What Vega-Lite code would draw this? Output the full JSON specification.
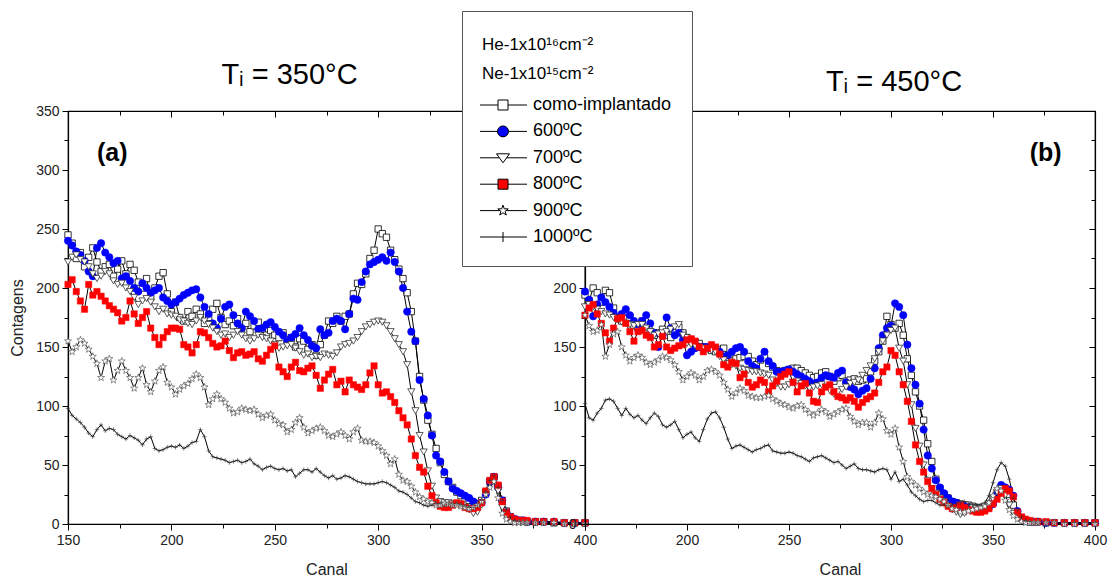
{
"$schema": "https://vega.github.io/schema/vega-lite/v6.json",
"background": "white",
"padding": {"left": 9, "top": 10, "right": 18, "bottom": 2},
"spacing": 0,
"bounds": "flush",
"datasets": {
"a": [
{"x":150,"c":245,"s6":240,"s7":222,"s8":203,"s9":155,"s10":98},
{"x":152,"c":238,"s6":236,"s7":226,"s8":207,"s9":146,"s10":92},
{"x":154,"c":225,"s6":231,"s7":228,"s8":197,"s9":150,"s10":89},
{"x":156,"c":230,"s6":228,"s7":224,"s8":189,"s9":156,"s10":86},
{"x":158,"c":218,"s6":223,"s7":222,"s8":182,"s9":153,"s10":82},
{"x":160,"c":226,"s6":214,"s7":218,"s8":203,"s9":148,"s10":77},
{"x":162,"c":234,"s6":210,"s7":212,"s8":194,"s9":142,"s10":74},
{"x":164,"c":222,"s6":234,"s7":208,"s8":197,"s9":136,"s10":80},
{"x":166,"c":214,"s6":238,"s7":210,"s8":193,"s9":124,"s10":84},
{"x":168,"c":218,"s6":230,"s7":214,"s8":189,"s9":138,"s10":79},
{"x":170,"c":220,"s6":226,"s7":212,"s8":185,"s9":140,"s10":81},
{"x":172,"c":210,"s6":221,"s7":206,"s8":182,"s9":122,"s10":80},
{"x":174,"c":216,"s6":223,"s7":203,"s8":179,"s9":130,"s10":76},
{"x":176,"c":223,"s6":208,"s7":204,"s8":172,"s9":138,"s10":74},
{"x":178,"c":212,"s6":210,"s7":200,"s8":175,"s9":130,"s10":72},
{"x":180,"c":220,"s6":206,"s7":197,"s8":189,"s9":124,"s10":75},
{"x":182,"c":215,"s6":200,"s7":192,"s8":178,"s9":115,"s10":73},
{"x":184,"c":205,"s6":197,"s7":186,"s8":170,"s9":124,"s10":71},
{"x":186,"c":200,"s6":204,"s7":189,"s8":175,"s9":132,"s10":67},
{"x":188,"c":208,"s6":200,"s7":191,"s8":180,"s9":118,"s10":72},
{"x":190,"c":192,"s6":196,"s7":188,"s8":166,"s9":112,"s10":74},
{"x":192,"c":200,"s6":198,"s7":184,"s8":158,"s9":121,"s10":64},
{"x":194,"c":210,"s6":200,"s7":180,"s8":152,"s9":130,"s10":62},
{"x":196,"c":213,"s6":192,"s7":182,"s8":158,"s9":133,"s10":63},
{"x":198,"c":195,"s6":189,"s7":178,"s8":163,"s9":120,"s10":65},
{"x":200,"c":180,"s6":186,"s7":177,"s8":166,"s9":116,"s10":66},
{"x":202,"c":188,"s6":188,"s7":176,"s8":166,"s9":110,"s10":65},
{"x":204,"c":175,"s6":191,"s7":173,"s8":165,"s9":114,"s10":67},
{"x":206,"c":172,"s6":194,"s7":172,"s8":152,"s9":117,"s10":64},
{"x":208,"c":180,"s6":196,"s7":170,"s8":150,"s9":119,"s10":66},
{"x":210,"c":176,"s6":198,"s7":169,"s8":145,"s9":123,"s10":69},
{"x":212,"c":182,"s6":199,"s7":172,"s8":152,"s9":127,"s10":70},
{"x":214,"c":178,"s6":192,"s7":175,"s8":163,"s9":124,"s10":80},
{"x":216,"c":170,"s6":184,"s7":172,"s8":162,"s9":116,"s10":74},
{"x":218,"c":175,"s6":178,"s7":169,"s8":158,"s9":101,"s10":62},
{"x":220,"c":182,"s6":170,"s7":166,"s8":153,"s9":106,"s10":57},
{"x":222,"c":187,"s6":166,"s7":163,"s8":150,"s9":110,"s10":56},
{"x":224,"c":175,"s6":174,"s7":160,"s8":151,"s9":106,"s10":55},
{"x":226,"c":169,"s6":184,"s7":161,"s8":155,"s9":103,"s10":54},
{"x":228,"c":172,"s6":186,"s7":158,"s8":147,"s9":98,"s10":52},
{"x":230,"c":168,"s6":177,"s7":160,"s8":141,"s9":94,"s10":53},
{"x":232,"c":174,"s6":170,"s7":163,"s8":145,"s9":95,"s10":54},
{"x":234,"c":166,"s6":166,"s7":160,"s8":146,"s9":98,"s10":52},
{"x":236,"c":170,"s6":180,"s7":157,"s8":143,"s9":97,"s10":53},
{"x":238,"c":163,"s6":176,"s7":155,"s8":144,"s9":96,"s10":55},
{"x":240,"c":168,"s6":172,"s7":157,"s8":146,"s9":97,"s10":51},
{"x":242,"c":171,"s6":165,"s7":160,"s8":140,"s9":93,"s10":49},
{"x":244,"c":165,"s6":166,"s7":158,"s8":138,"s9":90,"s10":46},
{"x":246,"c":160,"s6":169,"s7":157,"s8":143,"s9":92,"s10":48},
{"x":248,"c":164,"s6":171,"s7":155,"s8":148,"s9":93,"s10":49},
{"x":250,"c":160,"s6":167,"s7":152,"s8":151,"s9":88,"s10":47},
{"x":252,"c":158,"s6":163,"s7":149,"s8":133,"s9":85,"s10":46},
{"x":254,"c":162,"s6":160,"s7":150,"s8":129,"s9":84,"s10":47},
{"x":256,"c":156,"s6":155,"s7":151,"s8":125,"s9":78,"s10":45},
{"x":258,"c":158,"s6":158,"s7":152,"s8":133,"s9":80,"s10":46},
{"x":260,"c":150,"s6":161,"s7":149,"s8":137,"s9":86,"s10":40},
{"x":262,"c":157,"s6":166,"s7":146,"s8":130,"s9":90,"s10":43},
{"x":264,"c":155,"s6":160,"s7":143,"s8":129,"s9":82,"s10":46},
{"x":266,"c":148,"s6":156,"s7":144,"s8":132,"s9":77,"s10":46},
{"x":268,"c":152,"s6":151,"s7":141,"s8":134,"s9":79,"s10":44},
{"x":270,"c":143,"s6":149,"s7":142,"s8":126,"s9":81,"s10":47},
{"x":272,"c":152,"s6":165,"s7":141,"s8":115,"s9":82,"s10":44},
{"x":274,"c":160,"s6":160,"s7":144,"s8":122,"s9":79,"s10":41},
{"x":276,"c":172,"s6":162,"s7":143,"s8":127,"s9":75,"s10":39},
{"x":278,"c":170,"s6":172,"s7":142,"s8":131,"s9":74,"s10":41},
{"x":280,"c":176,"s6":174,"s7":145,"s8":118,"s9":76,"s10":38},
{"x":282,"c":172,"s6":172,"s7":150,"s8":121,"s9":78,"s10":39},
{"x":284,"c":176,"s6":165,"s7":152,"s8":112,"s9":75,"s10":41},
{"x":286,"c":178,"s6":178,"s7":153,"s8":122,"s9":72,"s10":40},
{"x":288,"c":195,"s6":191,"s7":155,"s8":118,"s9":78,"s10":38},
{"x":290,"c":204,"s6":190,"s7":158,"s8":116,"s9":81,"s10":36},
{"x":292,"c":203,"s6":205,"s7":163,"s8":114,"s9":71,"s10":35},
{"x":294,"c":212,"s6":214,"s7":167,"s8":118,"s9":70,"s10":34},
{"x":296,"c":225,"s6":220,"s7":169,"s8":128,"s9":70,"s10":34},
{"x":298,"c":232,"s6":222,"s7":171,"s8":134,"s9":69,"s10":34},
{"x":300,"c":250,"s6":224,"s7":172,"s8":118,"s9":66,"s10":35},
{"x":302,"c":246,"s6":226,"s7":171,"s8":111,"s9":62,"s10":36},
{"x":304,"c":243,"s6":223,"s7":168,"s8":112,"s9":58,"s10":35},
{"x":306,"c":232,"s6":230,"s7":163,"s8":108,"s9":51,"s10":33},
{"x":308,"c":224,"s6":222,"s7":157,"s8":103,"s9":55,"s10":31},
{"x":310,"c":216,"s6":214,"s7":152,"s8":96,"s9":42,"s10":28},
{"x":312,"c":208,"s6":200,"s7":146,"s8":90,"s9":37,"s10":27},
{"x":314,"c":196,"s6":180,"s7":135,"s8":84,"s9":36,"s10":25},
{"x":316,"c":180,"s6":163,"s7":112,"s8":72,"s9":32,"s10":22},
{"x":318,"c":155,"s6":155,"s7":96,"s8":58,"s9":27,"s10":19},
{"x":320,"c":125,"s6":122,"s7":75,"s8":48,"s9":23,"s10":18},
{"x":322,"c":105,"s6":106,"s7":61,"s8":44,"s9":21,"s10":16},
{"x":324,"c":88,"s6":92,"s7":45,"s8":32,"s9":19,"s10":15},
{"x":326,"c":76,"s6":75,"s7":32,"s8":24,"s9":18,"s10":16},
{"x":328,"c":64,"s6":58,"s7":22,"s8":18,"s9":16,"s10":17},
{"x":330,"c":52,"s6":53,"s7":19,"s8":15,"s9":16,"s10":17},
{"x":332,"c":42,"s6":44,"s7":18,"s8":14,"s9":17,"s10":16},
{"x":334,"c":36,"s6":36,"s7":18,"s8":14,"s9":17,"s10":17},
{"x":336,"c":31,"s6":30,"s7":17,"s8":16,"s9":16,"s10":16},
{"x":338,"c":27,"s6":28,"s7":17,"s8":18,"s9":16,"s10":17},
{"x":340,"c":24,"s6":26,"s7":16,"s8":17,"s9":15,"s10":16},
{"x":342,"c":22,"s6":24,"s7":14,"s8":14,"s9":14,"s10":15},
{"x":344,"c":20,"s6":22,"s7":12,"s8":13,"s9":13,"s10":14},
{"x":346,"c":18,"s6":19,"s7":9,"s8":13,"s9":14,"s10":14},
{"x":348,"c":17,"s6":17,"s7":10,"s8":14,"s9":16,"s10":16},
{"x":350,"c":20,"s6":18,"s7":16,"s8":18,"s9":19,"s10":20},
{"x":352,"c":27,"s6":25,"s7":25,"s8":28,"s9":25,"s10":27},
{"x":354,"c":36,"s6":36,"s7":35,"s8":37,"s9":31,"s10":37},
{"x":356,"c":40,"s6":40,"s7":38,"s8":40,"s9":36,"s10":41},
{"x":358,"c":32,"s6":31,"s7":28,"s8":33,"s9":22,"s10":31},
{"x":360,"c":20,"s6":20,"s7":14,"s8":19,"s9":9,"s10":20},
{"x":362,"c":11,"s6":10,"s7":6,"s8":10,"s9":4,"s10":12},
{"x":364,"c":6,"s6":6,"s7":3,"s8":6,"s9":2,"s10":6},
{"x":366,"c":4,"s6":4,"s7":2,"s8":4,"s9":1,"s10":3},
{"x":368,"c":3,"s6":3,"s7":2,"s8":3,"s9":1,"s10":2},
{"x":370,"c":3,"s6":3,"s7":2,"s8":3,"s9":1,"s10":1},
{"x":372,"c":2,"s6":2,"s7":1,"s8":3,"s9":1,"s10":1},
{"x":376,"c":2,"s6":2,"s7":1,"s8":2,"s9":1,"s10":1},
{"x":380,"c":2,"s6":2,"s7":1,"s8":2,"s9":1,"s10":1},
{"x":385,"c":1,"s6":2,"s7":1,"s8":2,"s9":1,"s10":0},
{"x":390,"c":1,"s6":1,"s7":1,"s8":1,"s9":0,"s10":0},
{"x":395,"c":1,"s6":1,"s7":1,"s8":1,"s9":0,"s10":0},
{"x":400,"c":1,"s6":1,"s7":1,"s8":1,"s9":0,"s10":0}
],
"b": [
{"x":150,"c":194,"s6":197,"s7":184,"s8":177,"s9":177,"s10":102},
{"x":152,"c":189,"s6":190,"s7":186,"s8":183,"s9":168,"s10":90},
{"x":154,"c":200,"s6":176,"s7":184,"s8":186,"s9":163,"s10":88},
{"x":156,"c":196,"s6":186,"s7":182,"s8":178,"s9":164,"s10":94},
{"x":158,"c":188,"s6":192,"s7":180,"s8":170,"s9":169,"s10":98},
{"x":160,"c":198,"s6":188,"s7":178,"s8":162,"s9":142,"s10":105},
{"x":162,"c":196,"s6":184,"s7":177,"s8":155,"s9":152,"s10":106},
{"x":164,"c":183,"s6":179,"s7":175,"s8":166,"s9":161,"s10":104},
{"x":166,"c":175,"s6":175,"s7":173,"s8":174,"s9":163,"s10":98},
{"x":168,"c":172,"s6":178,"s7":171,"s8":175,"s9":150,"s10":92},
{"x":170,"c":174,"s6":182,"s7":170,"s8":170,"s9":143,"s10":98},
{"x":172,"c":175,"s6":177,"s7":169,"s8":163,"s9":138,"s10":93},
{"x":174,"c":168,"s6":172,"s7":168,"s8":155,"s9":141,"s10":90},
{"x":176,"c":166,"s6":169,"s7":169,"s8":163,"s9":143,"s10":92},
{"x":178,"c":172,"s6":172,"s7":169,"s8":164,"s9":141,"s10":88},
{"x":180,"c":165,"s6":177,"s7":166,"s8":160,"s9":137,"s10":85},
{"x":182,"c":163,"s6":170,"s7":163,"s8":158,"s9":135,"s10":90},
{"x":184,"c":160,"s6":162,"s7":160,"s8":150,"s9":137,"s10":94},
{"x":186,"c":162,"s6":150,"s7":161,"s8":152,"s9":139,"s10":91},
{"x":188,"c":165,"s6":160,"s7":162,"s8":159,"s9":142,"s10":84},
{"x":190,"c":160,"s6":175,"s7":163,"s8":150,"s9":141,"s10":82},
{"x":192,"c":158,"s6":166,"s7":165,"s8":147,"s9":139,"s10":84},
{"x":194,"c":163,"s6":160,"s7":167,"s8":149,"s9":135,"s10":87},
{"x":196,"c":167,"s6":162,"s7":169,"s8":151,"s9":129,"s10":80},
{"x":198,"c":162,"s6":156,"s7":160,"s8":152,"s9":122,"s10":73},
{"x":200,"c":158,"s6":143,"s7":153,"s8":156,"s9":125,"s10":76},
{"x":202,"c":156,"s6":146,"s7":152,"s8":157,"s9":128,"s10":78},
{"x":204,"c":154,"s6":149,"s7":151,"s8":155,"s9":126,"s10":73},
{"x":206,"c":153,"s6":150,"s7":150,"s8":150,"s9":122,"s10":70},
{"x":208,"c":150,"s6":150,"s7":149,"s8":146,"s9":125,"s10":80},
{"x":210,"c":149,"s6":150,"s7":148,"s8":149,"s9":130,"s10":89},
{"x":212,"c":147,"s6":149,"s7":147,"s8":152,"s9":131,"s10":94},
{"x":214,"c":146,"s6":149,"s7":146,"s8":150,"s9":129,"s10":95},
{"x":216,"c":148,"s6":146,"s7":142,"s8":144,"s9":126,"s10":90},
{"x":218,"c":149,"s6":142,"s7":139,"s8":135,"s9":120,"s10":82},
{"x":220,"c":141,"s6":143,"s7":136,"s8":133,"s9":114,"s10":72},
{"x":222,"c":138,"s6":146,"s7":135,"s8":137,"s9":108,"s10":64},
{"x":224,"c":140,"s6":149,"s7":134,"s8":136,"s9":111,"s10":66},
{"x":226,"c":141,"s6":150,"s7":132,"s8":124,"s9":115,"s10":67},
{"x":228,"c":142,"s6":146,"s7":131,"s8":127,"s9":113,"s10":65},
{"x":230,"c":142,"s6":138,"s7":130,"s8":120,"s9":109,"s10":63},
{"x":232,"c":138,"s6":134,"s7":129,"s8":116,"s9":108,"s10":61},
{"x":234,"c":135,"s6":132,"s7":129,"s8":118,"s9":107,"s10":63},
{"x":236,"c":139,"s6":140,"s7":128,"s8":122,"s9":107,"s10":64},
{"x":238,"c":141,"s6":146,"s7":127,"s8":120,"s9":108,"s10":66},
{"x":240,"c":136,"s6":138,"s7":126,"s8":112,"s9":109,"s10":67},
{"x":242,"c":133,"s6":134,"s7":122,"s8":117,"s9":106,"s10":62},
{"x":244,"c":130,"s6":129,"s7":119,"s8":121,"s9":104,"s10":61},
{"x":246,"c":129,"s6":129,"s7":116,"s8":125,"s9":102,"s10":60},
{"x":248,"c":130,"s6":130,"s7":116,"s8":127,"s9":101,"s10":60},
{"x":250,"c":131,"s6":131,"s7":118,"s8":129,"s9":99,"s10":61},
{"x":252,"c":132,"s6":129,"s7":120,"s8":120,"s9":98,"s10":60},
{"x":254,"c":132,"s6":127,"s7":121,"s8":112,"s9":100,"s10":58},
{"x":256,"c":130,"s6":125,"s7":119,"s8":117,"s9":101,"s10":57},
{"x":258,"c":128,"s6":123,"s7":117,"s8":119,"s9":97,"s10":55},
{"x":260,"c":126,"s6":121,"s7":115,"s8":111,"s9":94,"s10":53},
{"x":262,"c":124,"s6":119,"s7":116,"s8":104,"s9":92,"s10":56},
{"x":264,"c":125,"s6":120,"s7":117,"s8":103,"s9":94,"s10":57},
{"x":266,"c":128,"s6":124,"s7":118,"s8":112,"s9":97,"s10":58},
{"x":268,"c":129,"s6":126,"s7":116,"s8":116,"s9":95,"s10":56},
{"x":270,"c":125,"s6":125,"s7":113,"s8":118,"s9":91,"s10":54},
{"x":272,"c":121,"s6":124,"s7":110,"s8":112,"s9":93,"s10":52},
{"x":274,"c":124,"s6":128,"s7":112,"s8":108,"s9":95,"s10":53},
{"x":276,"c":126,"s6":130,"s7":114,"s8":107,"s9":97,"s10":50},
{"x":278,"c":121,"s6":120,"s7":116,"s8":105,"s9":98,"s10":47},
{"x":280,"c":122,"s6":116,"s7":119,"s8":107,"s9":91,"s10":49},
{"x":282,"c":123,"s6":114,"s7":120,"s8":104,"s9":87,"s10":51},
{"x":284,"c":121,"s6":110,"s7":122,"s8":99,"s9":84,"s10":47},
{"x":286,"c":122,"s6":113,"s7":126,"s8":103,"s9":86,"s10":46},
{"x":288,"c":123,"s6":115,"s7":130,"s8":106,"s9":86,"s10":46},
{"x":290,"c":129,"s6":123,"s7":134,"s8":108,"s9":82,"s10":45},
{"x":292,"c":138,"s6":132,"s7":140,"s8":111,"s9":86,"s10":44},
{"x":294,"c":146,"s6":149,"s7":146,"s8":120,"s9":94,"s10":46},
{"x":296,"c":155,"s6":160,"s7":155,"s8":129,"s9":89,"s10":47},
{"x":298,"c":176,"s6":166,"s7":160,"s8":133,"s9":79,"s10":46},
{"x":300,"c":169,"s6":168,"s7":164,"s8":147,"s9":76,"s10":38},
{"x":302,"c":166,"s6":187,"s7":166,"s8":143,"s9":81,"s10":44},
{"x":304,"c":170,"s6":184,"s7":149,"s8":129,"s9":65,"s10":36},
{"x":306,"c":160,"s6":177,"s7":138,"s8":118,"s9":53,"s10":38},
{"x":308,"c":140,"s6":152,"s7":118,"s8":104,"s9":40,"s10":33},
{"x":310,"c":126,"s6":132,"s7":101,"s8":87,"s9":36,"s10":27},
{"x":312,"c":112,"s6":118,"s7":81,"s8":67,"s9":33,"s10":24},
{"x":314,"c":100,"s6":102,"s7":66,"s8":53,"s9":30,"s10":21},
{"x":316,"c":88,"s6":80,"s7":50,"s8":44,"s9":27,"s10":19},
{"x":318,"c":68,"s6":58,"s7":37,"s8":36,"s9":25,"s10":20},
{"x":320,"c":53,"s6":47,"s7":30,"s8":30,"s9":24,"s10":20},
{"x":322,"c":38,"s6":37,"s7":26,"s8":25,"s9":23,"s10":18},
{"x":324,"c":30,"s6":31,"s7":22,"s8":21,"s9":21,"s10":16},
{"x":326,"c":25,"s6":26,"s7":19,"s8":18,"s9":19,"s10":16},
{"x":328,"c":22,"s6":22,"s7":15,"s8":15,"s9":16,"s10":16},
{"x":330,"c":19,"s6":19,"s7":12,"s8":13,"s9":13,"s10":16},
{"x":332,"c":18,"s6":18,"s7":10,"s8":14,"s9":12,"s10":17},
{"x":334,"c":17,"s6":16,"s7":8,"s8":16,"s9":10,"s10":18},
{"x":336,"c":16,"s6":15,"s7":9,"s8":14,"s9":10,"s10":19},
{"x":338,"c":16,"s6":14,"s7":12,"s8":12,"s9":11,"s10":17},
{"x":340,"c":15,"s6":13,"s7":14,"s8":11,"s9":12,"s10":16},
{"x":342,"c":14,"s6":13,"s7":13,"s8":10,"s9":13,"s10":16},
{"x":344,"c":14,"s6":12,"s7":13,"s8":10,"s9":14,"s10":16},
{"x":346,"c":15,"s6":13,"s7":12,"s8":11,"s9":15,"s10":18},
{"x":348,"c":17,"s6":14,"s7":15,"s8":13,"s9":18,"s10":24},
{"x":350,"c":21,"s6":17,"s7":21,"s8":17,"s9":24,"s10":35},
{"x":352,"c":26,"s6":25,"s7":27,"s8":21,"s9":30,"s10":46},
{"x":354,"c":30,"s6":33,"s7":30,"s8":26,"s9":28,"s10":52},
{"x":356,"c":30,"s6":31,"s7":24,"s8":30,"s9":20,"s10":49},
{"x":358,"c":25,"s6":29,"s7":16,"s8":28,"s9":12,"s10":38},
{"x":360,"c":16,"s6":24,"s7":9,"s8":23,"s9":7,"s10":22},
{"x":362,"c":9,"s6":11,"s7":5,"s8":10,"s9":4,"s10":12},
{"x":364,"c":5,"s6":5,"s7":3,"s8":6,"s9":2,"s10":6},
{"x":366,"c":3,"s6":3,"s7":2,"s8":4,"s9":1,"s10":3},
{"x":368,"c":2,"s6":2,"s7":1,"s8":3,"s9":1,"s10":2},
{"x":370,"c":2,"s6":2,"s7":1,"s8":2,"s9":1,"s10":1},
{"x":372,"c":2,"s6":2,"s7":1,"s8":2,"s9":1,"s10":1},
{"x":376,"c":1,"s6":1,"s7":1,"s8":2,"s9":1,"s10":1},
{"x":380,"c":1,"s6":1,"s7":1,"s8":1,"s9":1,"s10":1},
{"x":385,"c":1,"s6":1,"s7":1,"s8":1,"s9":0,"s10":1},
{"x":390,"c":1,"s6":1,"s7":1,"s8":1,"s9":0,"s10":1},
{"x":395,"c":1,"s6":1,"s7":1,"s8":1,"s9":0,"s10":1},
{"x":400,"c":1,"s6":1,"s7":1,"s8":1,"s9":0,"s10":1}
]
},
"hconcat": [
{
"width": 517, "height": 413,
"data": {"name": "a"},
"title": {"text": "Tᵢ = 350°C", "dx": -37},
"layer": [
{"transform": [{"fold": ["c","s6","s7","s8","s9","s10"], "as": ["serie","v"]}],
 "mark": {"type": "line", "color": "black", "strokeWidth": 1},
 "encoding": {
  "x": {"field": "x", "type": "quantitative", "scale": {"domain": [150,400], "nice": false, "zero": false},
        "axis": {"title": "Canal", "values": [150,175,200,225,250,275,300,325,350,375,400], "labelExpr": "datum.value % 50 === 0 ? datum.label : ''", "tickSize": {"condition": {"test": "datum.value % 50 === 0", "value": 6}, "value": 4}}},
  "y": {"field": "v", "type": "quantitative", "scale": {"domain": [0,350], "nice": false},
        "axis": {"title": "Contagens", "values": [0,25,50,75,100,125,150,175,200,225,250,275,300,325,350], "labelExpr": "datum.value % 50 === 0 ? datum.label : ''", "tickSize": {"condition": {"test": "datum.value % 50 === 0", "value": 6}, "value": 4}}},
  "detail": {"field": "serie", "type": "nominal"}}},
{"mark": {"type": "point", "shape": "square", "filled": true, "fill": "white", "stroke": "black", "strokeWidth": 0.8, "size": 40, "opacity": 1},
 "encoding": {"x": {"field": "x", "type": "quantitative", "axis": null}, "y": {"field": "c", "type": "quantitative", "axis": null}}},
{"mark": {"type": "point", "shape": "circle", "filled": true, "fill": "#0000ff", "stroke": "#0000ff", "strokeWidth": 0.5, "size": 55, "opacity": 1},
 "encoding": {"x": {"field": "x", "type": "quantitative", "axis": null}, "y": {"field": "s6", "type": "quantitative", "axis": null}}},
{"mark": {"type": "point", "shape": "triangle-down", "filled": true, "fill": "white", "stroke": "#333333", "strokeWidth": 0.8, "size": 50, "opacity": 1},
 "encoding": {"x": {"field": "x", "type": "quantitative", "axis": null}, "y": {"field": "s7", "type": "quantitative", "axis": null}}},
{"mark": {"type": "point", "shape": "square", "filled": true, "fill": "#ff0000", "stroke": "#ff0000", "strokeWidth": 0.5, "size": 40, "opacity": 1},
 "encoding": {"x": {"field": "x", "type": "quantitative", "axis": null}, "y": {"field": "s8", "type": "quantitative", "axis": null}}},
{"mark": {"type": "point", "shape": "M0,-1L0.235,-0.324L0.951,-0.309L0.380,0.124L0.588,0.809L0,0.4L-0.588,0.809L-0.380,0.124L-0.951,-0.309L-0.235,-0.324Z", "filled": true, "fill": "white", "stroke": "#444444", "strokeWidth": 0.6, "size": 55, "opacity": 1},
 "encoding": {"x": {"field": "x", "type": "quantitative", "axis": null}, "y": {"field": "s9", "type": "quantitative", "axis": null}}},
{"mark": {"type": "point", "shape": "M-1,0H1M0,-1V1", "filled": false, "stroke": "#333333", "strokeWidth": 0.6, "size": 20, "opacity": 1},
 "encoding": {"x": {"field": "x", "type": "quantitative", "axis": null}, "y": {"field": "s10", "type": "quantitative", "axis": null}}},
{"mark": {"type": "point", "opacity": 0},
 "encoding": {"x": {"field": "x", "type": "quantitative", "axis": {"orient": "top", "title": null, "labels": false, "values": [150,175,200,225,250,275,300,325,350,375,400], "tickSize": {"condition": {"test": "datum.value % 50 === 0", "value": -6}, "value": -4}}},
              "y": {"field": "c", "type": "quantitative", "axis": null}}},
{"data": {"values": [{}]},
 "mark": {"type": "text", "text": "(a)", "fontSize": 25, "fontWeight": "bold", "align": "left", "baseline": "middle", "font": "Liberation Sans", "color": "black"},
 "encoding": {"x": {"datum": 164, "type": "quantitative", "axis": null}, "y": {"datum": 314, "type": "quantitative", "axis": null}}},
{"data": {"values": []},
 "mark": {"type": "point", "filled": true, "opacity": 1},
 "encoding": {
  "shape": {"field": "serie", "type": "nominal",
    "scale": {"domain": ["como-implantado","600ºC","700ºC","800ºC","900ºC","1000ºC"],
              "range": ["M-2.2,0H1.4M3.4,0H7.2M1.4,-1H3.4V1H1.4Z",
                        "M-2.2,0H1.3M3.5,0H7.2M1.3,0A1.1,1.1,0,1,1,3.5,0A1.1,1.1,0,1,1,1.3,0Z",
                        "M-2.2,0H1.68M3.12,0H7.2M1.1,-0.8H3.7L2.4,1Z",
                        "M-2.2,0H1.4M3.4,0H7.2M1.4,-1H3.4V1H1.4Z",
                        "M-2.2,0H1.8M3,0H7.2M2.4,-1.1L2.659,-0.356L3.446,-0.34L2.818,0.136L3.047,0.89L2.4,0.44L1.753,0.89L1.982,0.136L1.354,-0.34L2.141,-0.356Z",
                        "M-2.2,0H7.2M2.4,-1V1"]},
    "legend": {"orient": "none", "legendX": 394, "legendY": -100, "zindex": 1, "title": ["He-1x10¹⁶cm⁻²","Ne-1x10¹⁵cm⁻²"]}},
  "fill": {"field": "serie", "type": "nominal",
    "scale": {"domain": ["como-implantado","600ºC","700ºC","800ºC","900ºC","1000ºC"], "range": ["white","#0000ff","white","#ff0000","white","white"]},
    "legend": {"orient": "none", "legendX": 394, "legendY": -100, "zindex": 1, "title": ["He-1x10¹⁶cm⁻²","Ne-1x10¹⁵cm⁻²"]}},
  "stroke": {"field": "serie", "type": "nominal",
    "scale": {"domain": ["como-implantado","600ºC","700ºC","800ºC","900ºC","1000ºC"], "range": ["black","black","black","black","black","black"]},
    "legend": {"orient": "none", "legendX": 394, "legendY": -100, "zindex": 1, "title": ["He-1x10¹⁶cm⁻²","Ne-1x10¹⁵cm⁻²"]}}}}
],
"resolve": {"axis": {"x": "independent", "y": "independent"}}
},
{
"width": 510, "height": 413,
"data": {"name": "b"},
"title": {"text": "Tᵢ = 450°C", "dx": 54},
"layer": [
{"transform": [{"fold": ["c","s6","s7","s8","s9","s10"], "as": ["serie","v"]}],
 "mark": {"type": "line", "color": "black", "strokeWidth": 1},
 "encoding": {
  "x": {"field": "x", "type": "quantitative", "scale": {"domain": [150,400], "nice": false, "zero": false},
        "axis": {"title": "Canal", "values": [150,175,200,225,250,275,300,325,350,375,400], "labelExpr": "datum.value % 50 === 0 && datum.value > 150 ? datum.label : ''", "tickSize": {"condition": {"test": "datum.value % 50 === 0", "value": 6}, "value": 4}}},
  "y": {"field": "v", "type": "quantitative", "scale": {"domain": [0,350], "nice": false},
        "axis": {"title": null, "values": [0,25,50,75,100,125,150,175,200,225,250,275,300,325,350], "labelExpr": "datum.value % 50 === 0 && datum.value <= 200 ? datum.label : ''", "tickSize": {"condition": {"test": "datum.value % 50 === 0", "value": 6}, "value": 4}}},
  "detail": {"field": "serie", "type": "nominal"}}},
{"mark": {"type": "point", "shape": "square", "filled": true, "fill": "white", "stroke": "black", "strokeWidth": 0.8, "size": 40, "opacity": 1},
 "encoding": {"x": {"field": "x", "type": "quantitative", "axis": null}, "y": {"field": "c", "type": "quantitative", "axis": null}}},
{"mark": {"type": "point", "shape": "circle", "filled": true, "fill": "#0000ff", "stroke": "#0000ff", "strokeWidth": 0.5, "size": 55, "opacity": 1},
 "encoding": {"x": {"field": "x", "type": "quantitative", "axis": null}, "y": {"field": "s6", "type": "quantitative", "axis": null}}},
{"mark": {"type": "point", "shape": "triangle-down", "filled": true, "fill": "white", "stroke": "#333333", "strokeWidth": 0.8, "size": 50, "opacity": 1},
 "encoding": {"x": {"field": "x", "type": "quantitative", "axis": null}, "y": {"field": "s7", "type": "quantitative", "axis": null}}},
{"mark": {"type": "point", "shape": "square", "filled": true, "fill": "#ff0000", "stroke": "#ff0000", "strokeWidth": 0.5, "size": 40, "opacity": 1},
 "encoding": {"x": {"field": "x", "type": "quantitative", "axis": null}, "y": {"field": "s8", "type": "quantitative", "axis": null}}},
{"mark": {"type": "point", "shape": "M0,-1L0.235,-0.324L0.951,-0.309L0.380,0.124L0.588,0.809L0,0.4L-0.588,0.809L-0.380,0.124L-0.951,-0.309L-0.235,-0.324Z", "filled": true, "fill": "white", "stroke": "#444444", "strokeWidth": 0.6, "size": 55, "opacity": 1},
 "encoding": {"x": {"field": "x", "type": "quantitative", "axis": null}, "y": {"field": "s9", "type": "quantitative", "axis": null}}},
{"mark": {"type": "point", "shape": "M-1,0H1M0,-1V1", "filled": false, "stroke": "#333333", "strokeWidth": 0.6, "size": 20, "opacity": 1},
 "encoding": {"x": {"field": "x", "type": "quantitative", "axis": null}, "y": {"field": "s10", "type": "quantitative", "axis": null}}},
{"mark": {"type": "point", "opacity": 0},
 "encoding": {"x": {"field": "x", "type": "quantitative", "axis": {"orient": "top", "title": null, "labels": false, "values": [150,175,200,225,250,275,300,325,350,375,400], "tickSize": {"condition": {"test": "datum.value % 50 === 0", "value": -6}, "value": -4}}},
              "y": {"field": "c", "type": "quantitative", "axis": {"orient": "right", "title": null, "labels": false, "values": [0,25,50,75,100,125,150,175,200,225,250,275,300,325,350], "tickSize": {"condition": {"test": "datum.value % 50 === 0", "value": -6}, "value": -4}}}}},
{"data": {"values": [{}]},
 "mark": {"type": "text", "text": "(b)", "fontSize": 25, "fontWeight": "bold", "align": "left", "baseline": "middle", "font": "Liberation Sans", "color": "black"},
 "encoding": {"x": {"datum": 368, "type": "quantitative", "axis": null}, "y": {"datum": 314, "type": "quantitative", "axis": null}}}
],
"resolve": {"axis": {"x": "independent", "y": "independent"}}
}
],
"config": {
 "font": "Liberation Sans",
 "view": {"stroke": "black", "strokeWidth": 1.2},
 "axis": {"grid": false, "labelFlush": false, "domainColor": "black", "domainWidth": 1.2, "tickColor": "black", "tickWidth": 1, "labelColor": "#222222", "titleColor": "#222222", "labelFontSize": 14, "titleFontSize": 16, "titleFontWeight": "normal", "labelFont": "Liberation Sans", "titleFont": "Liberation Sans", "labelPadding": 3},
 "axisX": {"titlePadding": 14},
 "axisY": {"titlePadding": 10},
 "title": {"fontSize": 29, "fontWeight": "normal", "font": "Liberation Sans", "color": "black", "anchor": "middle", "offset": 14, "baseline": "alphabetic"},
 "legend": {"titleFontSize": 17, "titleFontWeight": "normal", "titleColor": "black", "titleFont": "Liberation Sans", "titleLineHeight": 29, "titleBaseline": "line-top", "titlePadding": 19, "labelFontSize": 18, "labelColor": "black", "labelFont": "Liberation Sans", "labelOffset": 33, "symbolSize": 100, "symbolStrokeWidth": 1, "rowPadding": 8.4, "padding": 20, "fillColor": "white", "strokeColor": "#555555", "labelLimit": 300}
}
}
